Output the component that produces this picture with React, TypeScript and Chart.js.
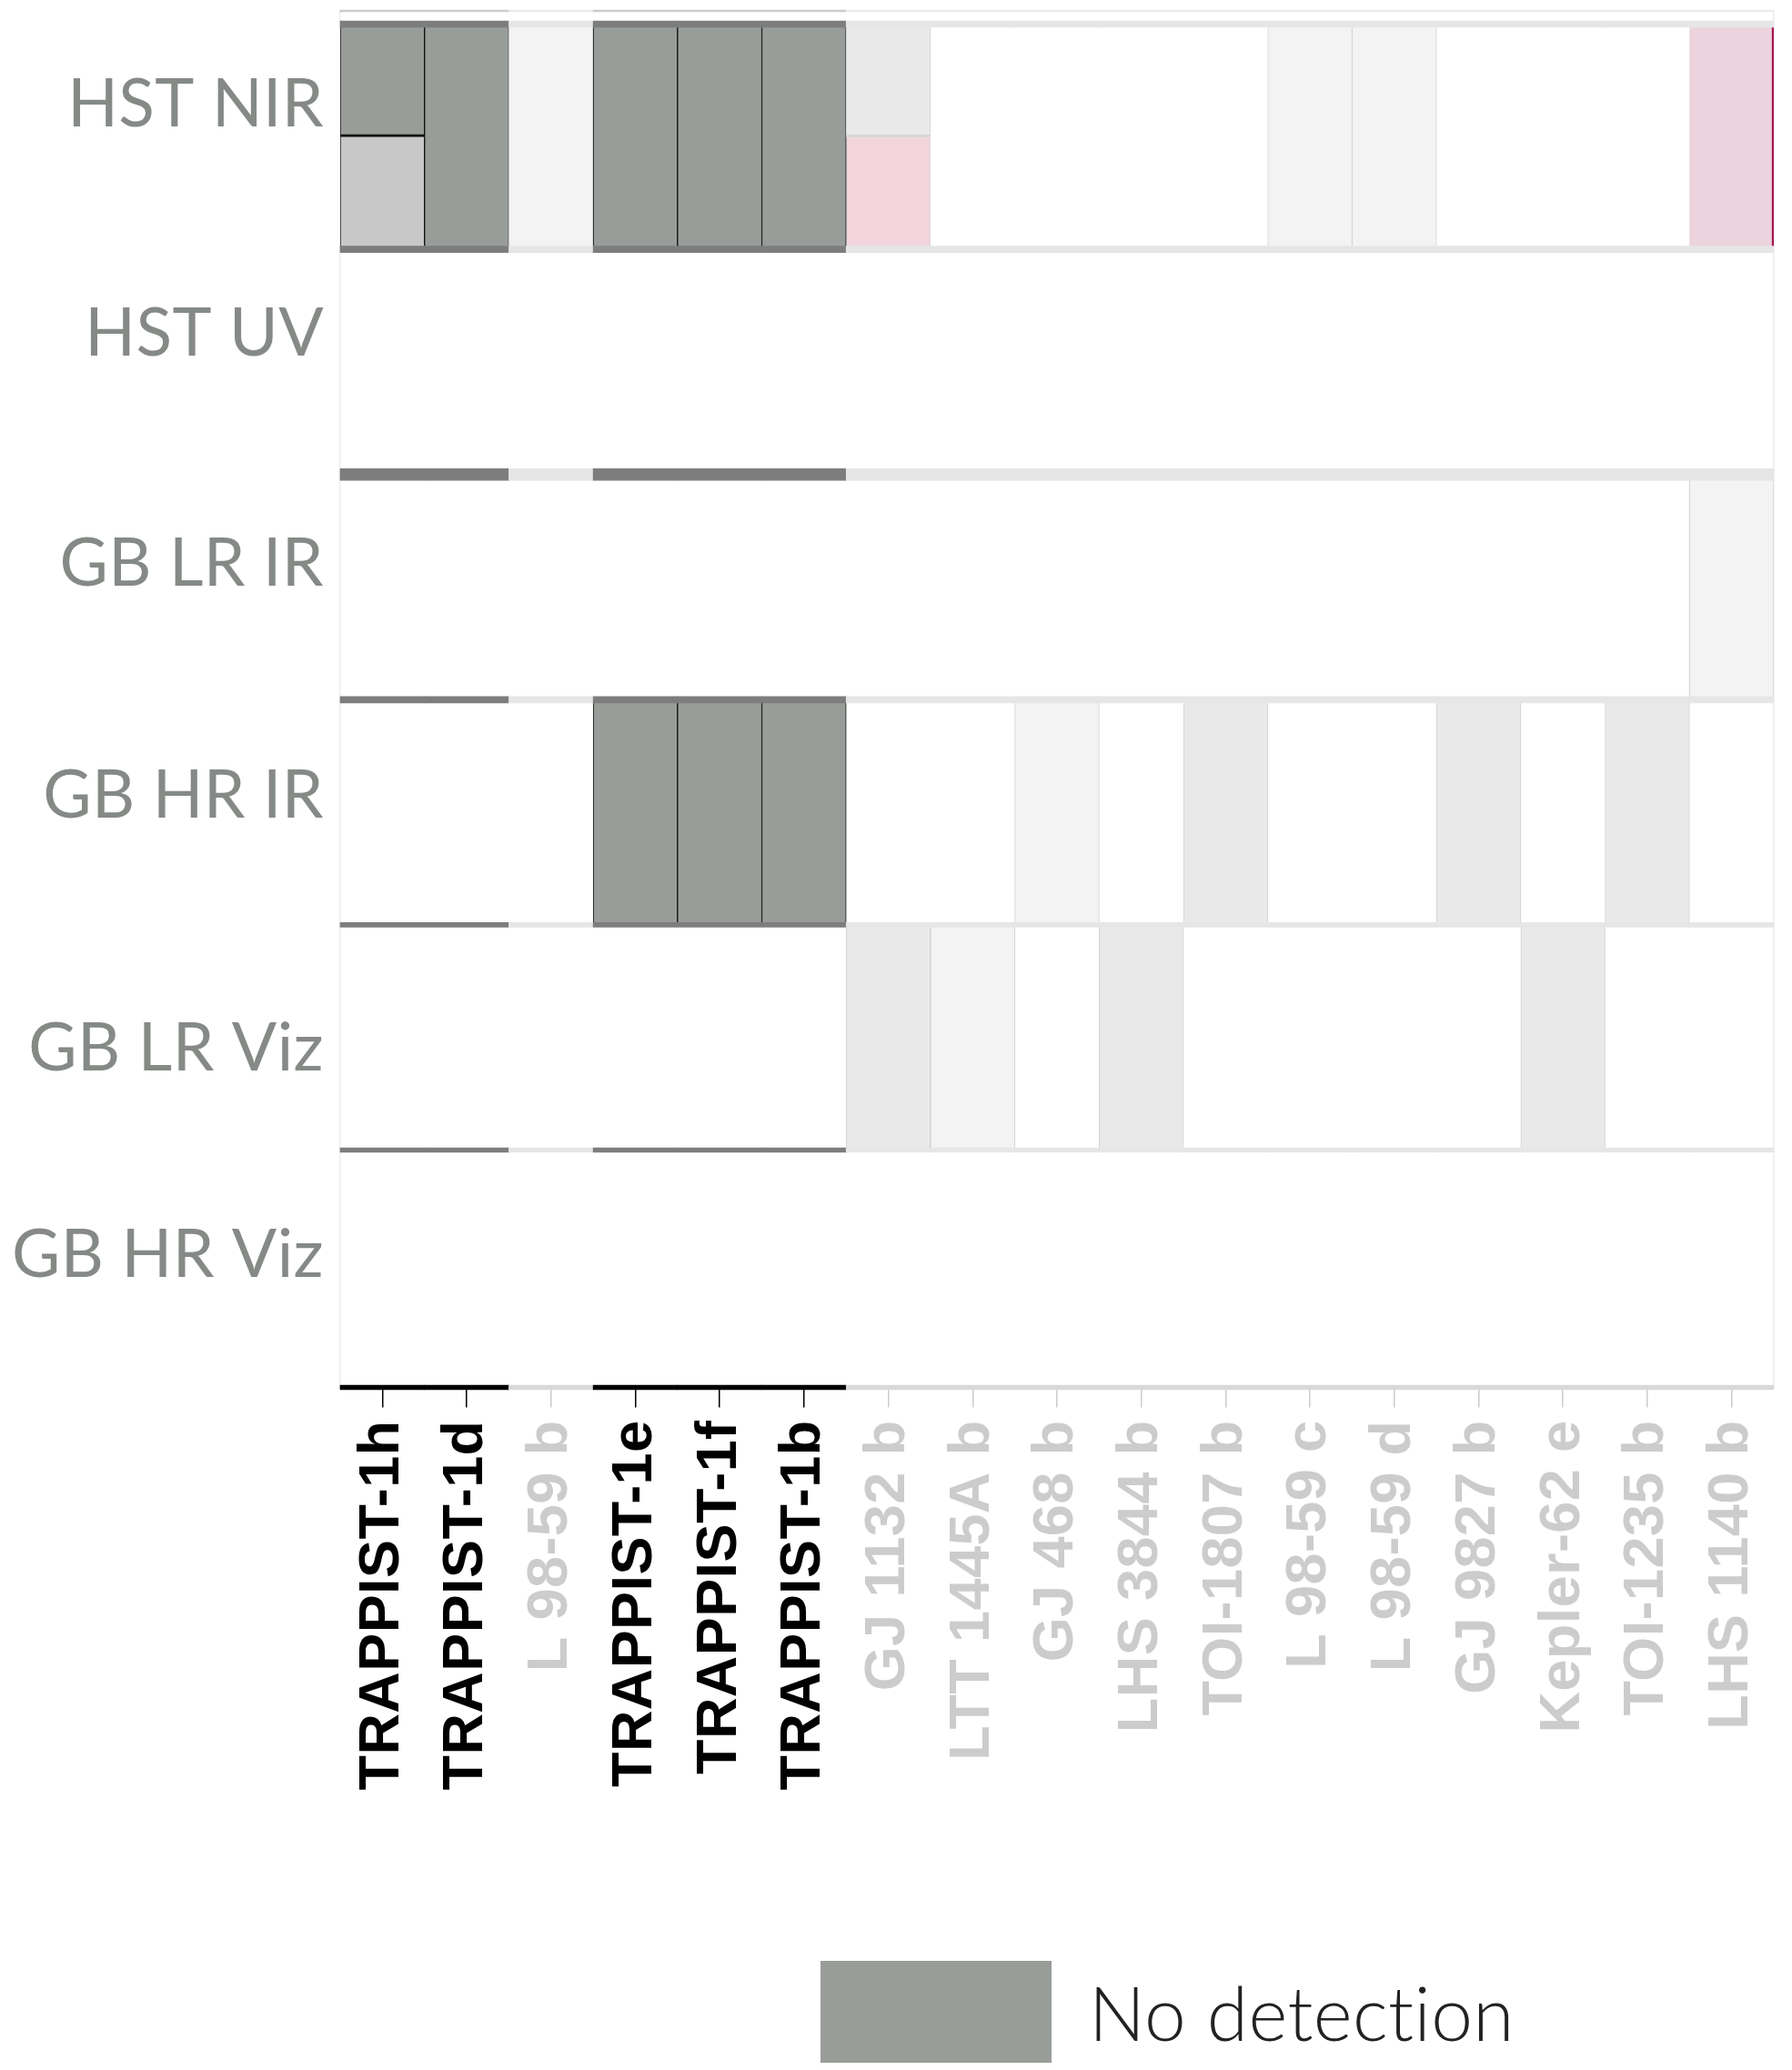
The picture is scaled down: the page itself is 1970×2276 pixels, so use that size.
import React, { useEffect, useRef } from 'react';
import { Chart, registerables } from 'chart.js';

Chart.register(...registerables);

// ---- data ----
const planets = [
  'TRAPPIST-1h', 'TRAPPIST-1d', 'L 98-59 b', 'TRAPPIST-1e', 'TRAPPIST-1f', 'TRAPPIST-1b',
  'GJ 1132 b', 'LTT 1445A b', 'GJ 468 b', 'LHS 3844 b', 'TOI-1807 b', 'L 98-59 c',
  'L 98-59 d', 'GJ 9827 b', 'Kepler-62 e', 'TOI-1235 b', 'LHS 1140 b',
];
const highlighted = [true, true, false, true, true, true, false, false, false, false, false, false, false, false, false, false, false];

const instruments = ['HST NIR', 'HST UV', 'GB LR IR', 'GB HR IR', 'GB LR Viz', 'GB HR Viz'];
const instrumentLabelPos = [0.36, 1.375, 2.4, 3.43, 4.55, 5.47];

// status codes per planet ('A/B' = upper half A, lower half B; '' = no cell)
const hstNir = ['N/T', 'N', 'F', 'N', 'N', 'N', 'L/P', '', '', '', '', 'F', 'F', '', '', '', 'Q'];
const hstUv = ['', '', '', '', '', '', '', '', '', '', '', '', '', '', '', '', ''];
const gbLrIr = ['', '', '', '', '', '', '', '', '', '', '', '', '', '', '', '', 'F'];
const gbHrIr = ['', '', '', 'N', 'N', 'N', '', '', 'F', '', 'L', '', '', 'L', '', 'L', ''];
const gbLrViz = ['', '', '', '', '', '', 'L', 'F', '', 'L', '', '', '', '', 'L', '', ''];
const gbHrViz = ['', '', '', '', '', '', '', '', '', '', '', '', '', '', '', '', ''];
const rows = [hstNir, hstUv, gbLrIr, gbHrIr, gbLrViz, gbHrViz];

const legendLabels = ['No detection'];

// ---- styles ----
const fills: Record<string, string> = {
  N: '#999d99', T: '#c8c8c8', L: '#e9e9e9', F: '#f3f3f3', P: '#f1d4dc', Q: '#edd3de',
};
const edges: Record<string, string> = {
  N: '#111111', T: '#111111', L: '#d2d2d2', F: '#d2d2d2', P: '#d8d8d8', Q: '#a3164f',
};

const Y_MIN = -0.0586;
const Y_MAX = 6.054;
const ROW_PX = 247.6;
const LEGEND_LEFT = 884;

const boundaryRows = [0, 1, 2, 3, 4, 5];
const boundaryPx = [7, 7, 13, 7, 5, 5];

function cellWidth(s: string, splitTop: boolean) {
  if (!s) return 0;
  if (s === 'Q') return { top: 0, bottom: 0, left: 0, right: 2.5 };
  return { top: 0, bottom: splitTop ? (s === 'N' ? 3 : 2.5) : 0, left: 1, right: 1 };
}

function buildDatasets() {
  const ds: any[] = [];
  rows.forEach((codes, r) => {
    const upper = codes.map((c) => (c ? c.split('/')[0] : ''));
    const lower = codes.map((c) => (c.includes('/') ? c.split('/')[1] : ''));
    const split = codes.map((c) => c.includes('/'));
    ds.push({
      label: instruments[r] + ' upper',
      data: codes.map((c, i) => (c ? [r, split[i] ? r + 0.5 : r + 1] : null)),
      backgroundColor: upper.map((s) => fills[s] || 'rgba(0,0,0,0)'),
      borderColor: upper.map((s) => edges[s] || 'rgba(0,0,0,0)'),
      borderWidth: (ctx: any) =>
        ctx.dataIndex === undefined ? 0 : cellWidth(upper[ctx.dataIndex], split[ctx.dataIndex]),
      order: 2,
    });
    ds.push({
      label: instruments[r] + ' lower',
      data: codes.map((c, i) => (split[i] ? [r + 0.5, r + 1] : null)),
      backgroundColor: lower.map((s) => fills[s] || 'rgba(0,0,0,0)'),
      borderColor: lower.map((s) => edges[s] || 'rgba(0,0,0,0)'),
      borderWidth: (ctx: any) =>
        ctx.dataIndex === undefined ? 0 : cellWidth(lower[ctx.dataIndex], false),
      order: 2,
    });
  });
  const band = (v: number, px: number, dark: string, light: string) => {
    const half = px / ROW_PX / 2;
    return {
      label: 'band',
      data: planets.map(() => [v - half, v + half]),
      backgroundColor: highlighted.map((h) => (h ? dark : light)),
      borderWidth: 0,
      clip: false,
      order: 1,
    };
  };
  ds.push(band(Y_MIN, 2, '#cccccc', '#ececec'));
  boundaryRows.forEach((b, i) => ds.push(band(b, boundaryPx[i], '#7d7d7d', '#e6e6e6')));
  ds.push(band(Y_MAX, 5, '#000000', '#d9d9d9'));
  return ds;
}

const legendOffset = {
  id: 'legendOffset',
  afterLayout(chart: any) {
    const lg = chart.legend;
    if (lg) lg.left = LEGEND_LEFT;
  },
  beforeDraw(chart: any) {
    try {
      chart.ctx.letterSpacing = '0.4px';
    } catch (e) {
      /* ignore */
    }
  },
};

export default function App() {
  const ref = useRef<HTMLCanvasElement>(null);
  useEffect(() => {
    if (!ref.current) return;
    const chart = new Chart(ref.current, {
      type: 'bar',
      data: { labels: planets, datasets: buildDatasets() },
      options: {
        responsive: false,
        animation: false,
        devicePixelRatio: 1,
        layout: { padding: { top: 4, right: 12, left: 0, bottom: 0 } },
        datasets: {
          bar: { grouped: false, categoryPercentage: 1, barPercentage: 1, borderSkipped: false },
        },
        scales: {
          x: {
            type: 'category',
            offset: true,
            grid: {
              display: true,
              drawOnChartArea: false,
              drawTicks: true,
              tickLength: 22,
              lineWidth: 1.5,
              offset: false,
              color: (c: any) => (highlighted[c.index] ? '#000000' : '#cccccc'),
            },
            border: { display: false },
            ticks: {
              autoSkip: false,
              minRotation: 90,
              maxRotation: 90,
              padding: 14,
              color: (c: any) => (highlighted[c.index] ? '#000000' : '#cccccc'),
              font: { family: "'Liberation Sans', Arial, sans-serif", weight: 'bold', size: 63 },
            },
            afterFit: (s: any) => {
              s.height = 620.5;
              s.paddingLeft = 0;
              s.paddingRight = 0;
            },
          },
          y: {
            type: 'linear',
            reverse: true,
            min: Y_MIN,
            max: Y_MAX,
            bounds: 'data',
            grid: { display: false, drawTicks: false },
            border: { display: true, color: '#ececec', width: 1.5 },
            ticks: {
              autoSkip: false,
              padding: 18,
              color: '#868a86',
              font: { family: 'Lato', size: 73 },
              callback: (_v: any, i: number) => instruments[i],
            },
            afterBuildTicks: (s: any) => {
              s.ticks = instrumentLabelPos.map((v) => ({ value: v }));
            },
            afterFit: (s: any) => {
              s.width = 366;
              s.paddingTop = 0;
              s.paddingBottom = 0;
            },
          },
          yRight: {
            type: 'linear',
            position: 'right',
            min: 0,
            max: 1,
            grid: { display: false, drawTicks: false },
            ticks: { display: false },
            border: { display: true, color: '#ececec', width: 1.5 },
            afterFit: (s: any) => {
              s.width = 0;
              s.paddingTop = 0;
              s.paddingBottom = 0;
            },
          },
        },
        plugins: {
          tooltip: { enabled: false },
          legend: {
            display: true,
            position: 'bottom',
            align: 'start',
            labels: {
              boxWidth: 254,
              boxHeight: 124,
              padding: 10,
              color: '#222222',
              font: { family: 'Lato', size: 82, weight: '300' },
              generateLabels: () =>
                legendLabels.map((t) => ({
                  text: t,
                  fillStyle: fills.N,
                  strokeStyle: fills.N,
                  lineWidth: 0,
                  hidden: false,
                  datasetIndex: 0,
                  fontColor: '#222222',
                })),
            },
          },
        },
      } as any,
      plugins: [legendOffset],
    } as any);
    return () => chart.destroy();
  }, []);
  return (
    <div style={{ height: 2268, overflow: 'hidden', marginBottom: -8 }}>
      <canvas ref={ref} width={1954} height={2282} style={{ display: 'block' }} />
    </div>
  );
}
